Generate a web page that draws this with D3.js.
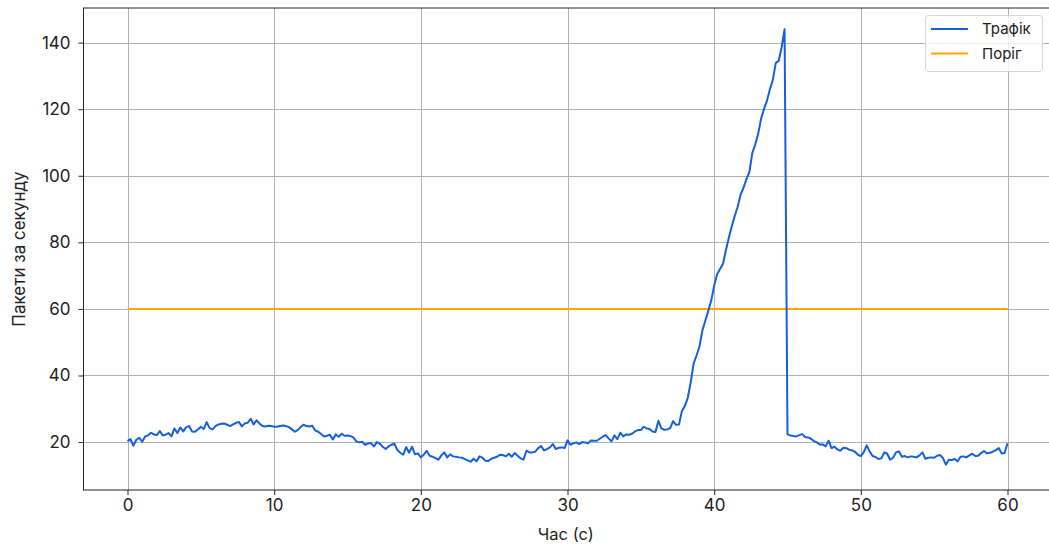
<!DOCTYPE html>
<html>
<head>
<meta charset="utf-8">
<script src="https://cdn.jsdelivr.net/npm/d3@7"></script>
<style>
  html, body { margin: 0; padding: 0; background: #fff; }
  svg { display: block; }
  text { font-family: "Inter", "Open Sans", sans-serif; fill: #222; }
</style>
</head>
<body>
<svg id="chart" width="1049" height="546"></svg>
<script>
// ---- data ----
const timeStep = 0.2; // seconds between samples
const traffic = [
  20.3, 20.9, 18.9, 20.7, 21.3, 20.1, 21.7, 22.0, 22.8, 22.3,
  22.1, 23.3, 22.0, 22.2, 22.7, 21.7, 24.1, 22.7, 24.4, 23.2,
  24.5, 24.8, 23.2, 23.1, 23.8, 24.6, 23.9, 26.0, 24.2, 23.8,
  24.8, 25.3, 25.5, 25.6, 25.2, 24.8, 25.3, 25.8, 26.0, 24.7,
  25.6, 25.8, 27.0, 25.3, 26.5, 25.6, 24.8, 24.7, 24.9, 24.8,
  24.6, 24.6, 24.8, 25.0, 24.8, 24.5, 23.9, 23.1, 23.6, 24.5,
  25.2, 24.8, 24.7, 24.9, 23.5, 23.1, 22.4, 21.7, 21.9, 22.2,
  20.8, 22.3, 21.6, 22.5, 21.9, 22.0, 21.8, 21.4, 20.2, 19.9,
  20.1, 19.2, 19.6, 19.7, 18.7, 20.0, 19.5, 18.6, 17.9, 18.7,
  19.2, 19.5, 17.6, 16.8, 16.2, 18.5, 16.8, 18.6, 16.3, 16.6,
  15.4, 16.2, 17.4, 15.9, 15.6, 15.2, 14.7, 16.0, 16.9, 15.4,
  16.3, 15.7, 15.6, 15.4, 15.3, 14.9, 14.5, 14.1, 15.0, 14.2,
  15.7, 15.3, 14.4, 14.3, 15.0, 15.3, 15.6, 16.2, 16.1, 15.7,
  16.5, 15.6, 16.7, 15.9, 15.1, 14.7, 17.4, 16.9, 16.9, 17.1,
  18.2, 18.8, 17.5, 17.9, 18.4, 19.4, 17.9, 18.3, 18.4, 18.2,
  20.5, 19.2, 19.6, 19.9, 19.4, 20.0, 19.9, 19.6, 20.5, 20.4,
  20.4, 21.0, 21.6, 22.1, 21.1, 20.2, 22.0, 20.9, 22.8, 21.7,
  22.3, 22.2, 22.5, 23.2, 23.6, 23.6, 24.6, 24.1, 23.9, 23.2,
  23.0, 26.4, 24.1, 23.7, 23.8, 24.2, 26.3, 25.2, 25.3, 29.3,
  30.8, 33.3, 37.9, 43.6, 46.0, 48.8, 53.6, 56.5, 59.4, 62.5,
  67.0, 70.4, 72.0, 73.5, 77.6, 81.4, 84.8, 87.9, 90.6, 94.3,
  96.4, 99.0, 101.1, 106.8, 109.4, 112.6, 117.2, 120.1, 122.5, 126.0,
  128.8, 133.9, 134.5, 138.6, 144.0, 22.3, 22.0, 21.8, 21.7, 22.1,
  22.4, 21.5, 21.4, 21.0, 20.3, 19.9, 19.3, 19.3, 18.7, 20.4,
  18.2, 18.6, 17.8, 17.4, 18.3, 18.2, 17.7, 17.5, 17.1, 16.2,
  15.8, 17.0, 19.0, 17.2, 15.8, 15.5, 14.9, 15.1, 16.9, 16.5,
  14.7, 15.3, 16.9, 17.2, 15.6, 15.8, 15.4, 15.7, 15.6, 15.4,
  16.0, 16.9, 15.0, 15.3, 15.4, 15.3, 15.9, 16.1, 15.2, 13.2,
  14.7, 14.6, 14.9, 14.2, 15.6, 15.7, 15.4, 16.0, 16.5, 15.8,
  15.9, 16.7, 17.3, 16.6, 16.8, 17.1, 17.6, 18.2, 16.6, 16.7,
  19.6
];
const thresholdValue = 60;
const thresholdSpan = [0, 60];
const xTicks = [0, 10, 20, 30, 40, 50, 60];
const yTicks = [20, 40, 60, 80, 100, 120, 140];
const seriesNames = ["Трафік", "Поріг"];
const xLabel = "Час (с)";
const yLabel = "Пакети за секунду";

// ---- layout ----
const svg = d3.select("#chart");
const pLeft = 83.5, pRight = 1051.5, pTop = 8, pBottom = 490;
const colors = { traffic: "#1660d8", threshold: "#ffa500" };

const x = d3.scaleLinear().domain([-3, 63]).range([pLeft, pRight]);
const y = d3.scaleLinear().domain([5.6, 150.4]).range([pBottom, pTop]);

const trafficPts = traffic.map((v, i) => [i * timeStep, v]);
const thresholdPts = thresholdSpan.map(t => [t, thresholdValue]);

// grid
const grid = svg.append("g").attr("stroke", "#b0b0b0").attr("stroke-width", 1);
grid.selectAll(".gx").data(xTicks).join("line")
  .attr("x1", d => Math.round(x(d)) + 0.5).attr("x2", d => Math.round(x(d)) + 0.5)
  .attr("y1", pTop).attr("y2", pBottom);
grid.selectAll(".gy").data(yTicks).join("line")
  .attr("y1", d => Math.round(y(d)) + 0.5).attr("y2", d => Math.round(y(d)) + 0.5)
  .attr("x1", pLeft).attr("x2", pRight);

// lines
const line = d3.line().x(d => x(d[0])).y(d => y(d[1]));
svg.append("path").datum(thresholdPts).attr("d", line)
  .attr("fill", "none").attr("stroke", colors.threshold).attr("stroke-width", 2);
svg.append("path").datum(trafficPts).attr("d", line)
  .attr("fill", "none").attr("stroke", colors.traffic).attr("stroke-width", 2)
  .attr("stroke-linejoin", "round");

// spines
svg.append("rect").attr("x", pLeft).attr("y", pTop)
  .attr("width", pRight - pLeft).attr("height", pBottom - pTop)
  .attr("fill", "none").attr("stroke", "#222").attr("stroke-width", 1);

// axes
const xAxis = svg.append("g").attr("transform", `translate(0,${pBottom})`)
  .call(d3.axisBottom(x).tickValues(xTicks).tickFormat(d3.format("d")).tickSize(5).tickPadding(4));
const yAxis = svg.append("g").attr("transform", `translate(${pLeft},0)`)
  .call(d3.axisLeft(y).tickValues(yTicks).tickFormat(d3.format("d")).tickSize(5).tickPadding(8));
[xAxis, yAxis].forEach(a => {
  a.select(".domain").remove();
  a.selectAll(".tick line").attr("stroke", "#222");
  a.selectAll(".tick text").style("font-size", "17px").attr("fill", "#222")
    .style("font-family", "Inter, 'Open Sans', sans-serif");
});

// labels
svg.append("text").attr("x", (pLeft + 1048) / 2).attr("y", 540)
  .attr("text-anchor", "middle").style("font-size", "16.5px").text(xLabel);
svg.append("text").attr("transform", `translate(25,${(pTop + pBottom) / 2}) rotate(-90)`)
  .attr("text-anchor", "middle").style("font-size", "17px").text(yLabel);

// legend
const lg = svg.append("g");
lg.append("rect").attr("x", 925.5).attr("y", 15.5).attr("width", 117).attr("height", 56)
  .attr("rx", 3).attr("fill", "#fff").attr("fill-opacity", 0.8)
  .attr("stroke", "#d6d6d6").attr("stroke-width", 1);
const legendItems = [
  { name: seriesNames[0], color: colors.traffic },
  { name: seriesNames[1], color: colors.threshold }
];
legendItems.forEach((d, i) => {
  const yy = 29 + i * 24.5;
  lg.append("line").attr("x1", 931).attr("x2", 968).attr("y1", yy).attr("y2", yy)
    .attr("stroke", d.color).attr("stroke-width", 2);
  lg.append("text").attr("x", 982).attr("y", yy + 5).style("font-size", "15px").text(d.name);
});
</script>
</body>
</html>
